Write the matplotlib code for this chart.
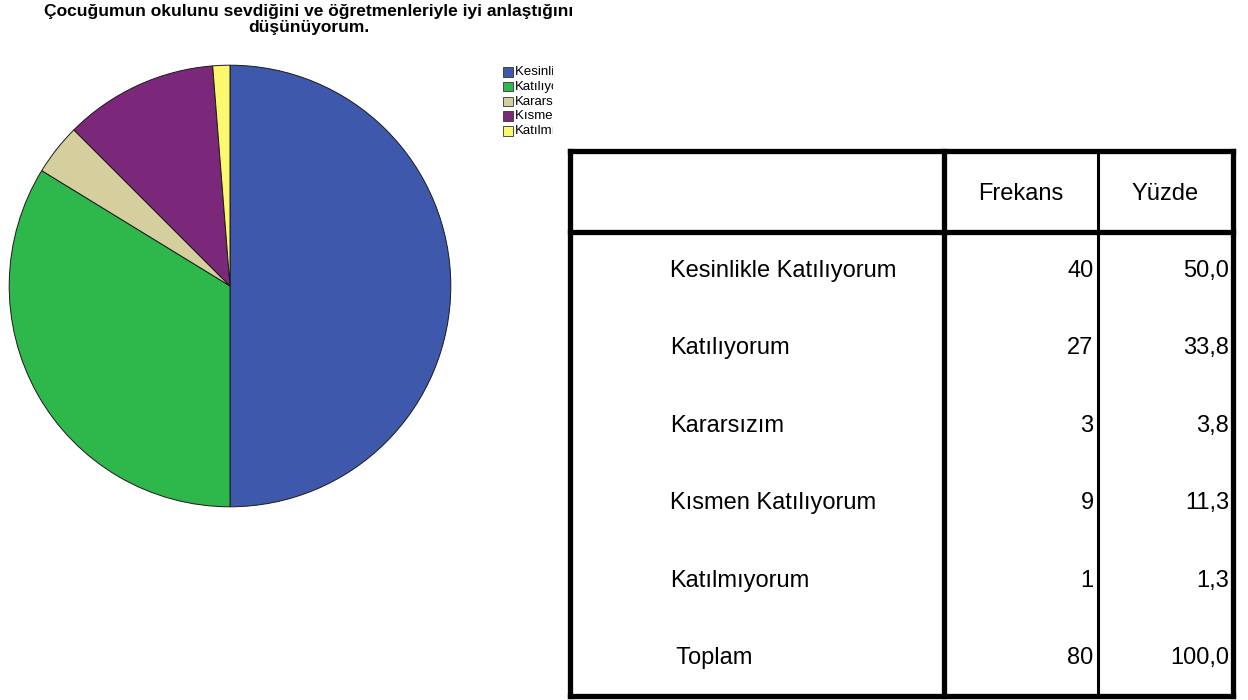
import matplotlib.pyplot as plt
from matplotlib.patches import Rectangle

plt.rcParams['font.family'] = ['Liberation Sans', 'DejaVu Sans']

title = "Çocuğumun okulunu sevdiğini ve öğretmenleriyle iyi anlaştığını\ndüşünüyorum."
categories = ["Kesinlikle Katılıyorum", "Katılıyorum", "Kararsızım",
              "Kısmen Katılıyorum", "Katılmıyorum"]
frequencies = [40, 27, 3, 9, 1]
percents = [50.0, 33.8, 3.8, 11.3, 1.3]
total_label = " Toplam"
total_freq = 80
total_pct = 100.0
headers = ["Frekans", "Yüzde"]
colors = ["#3e58ac", "#2eb84b", "#d5cf9d", "#7c287a", "#fbf870"]

W, H = 1248, 700
fig = plt.figure(figsize=(W / 100, H / 100), dpi=100)


def fig_axes(x0, y0, x1, y1):
    # axes placed by pixel box, y measured from the top
    return fig.add_axes([x0 / W, 1 - y1 / H, (x1 - x0) / W, (y1 - y0) / H])


# pie
cx, cy, r = 230, 286, 221
pax = fig_axes(cx - r - 2, cy - r - 2, cx + r + 2, cy + r + 2)
pax.pie(frequencies, colors=colors, startangle=90, counterclock=False,
        wedgeprops=dict(edgecolor="#1a1a1a", linewidth=0.7))
pax.set_xlim(-1.01, 1.01)
pax.set_ylim(-1.01, 1.01)
pax.set_aspect("equal")
pax.axis("off")

fig.text(309 / W, 1 - 4 / H, title, ha="center", va="top",
         fontsize=12.5, fontweight="bold", linespacing=1.1)

# legend, clipped on the right
lax = fig_axes(500, 63, 553, 140)
lax.set_xlim(500, 553)
lax.set_ylim(140, 63)
lax.axis("off")
for i, (name, c) in enumerate(zip(categories, colors)):
    y = 72 + i * 14.8
    lax.add_patch(Rectangle((503, y - 5), 10, 9.5, facecolor=c,
                            edgecolor="#333333", linewidth=0.6, clip_on=True))
    lax.text(515, y, name, fontsize=9.5, va="center", ha="left", clip_on=True)

# frequency table
tax = fig_axes(0, 0, W, H)
tax.set_xlim(0, W)
tax.set_ylim(H, 0)
tax.axis("off")

left, right, top, bottom = 570, 1233, 151, 696
col1, col2 = 944, 1097.5
head_bottom = 232
thick, thin = 3.8, 2.2

tax.plot([left, right], [top, top], color="black", lw=thick, solid_capstyle="projecting")
tax.plot([left, right], [bottom, bottom], color="black", lw=thick, solid_capstyle="projecting")
tax.plot([left, right], [head_bottom, head_bottom], color="black", lw=thick)
tax.plot([left, left], [top, bottom], color="black", lw=thick, solid_capstyle="projecting")
tax.plot([right, right], [top, bottom], color="black", lw=thick, solid_capstyle="projecting")
tax.plot([col1, col1], [top, bottom], color="black", lw=thick)
tax.plot([col2, col2], [top, bottom], color="black", lw=thin)

fs = 17
tax.text((col1 + col2) / 2, 194, headers[0], fontsize=fs, ha="center", va="center")
tax.text((col2 + right) / 2, 194, headers[1], fontsize=fs, ha="center", va="center")

row_labels = categories + [total_label]
row_freq = frequencies + [total_freq]
row_pct = percents + [total_pct]
for i, (lab, f, p) in enumerate(zip(row_labels, row_freq, row_pct)):
    y = 271 + i * 77.4
    tax.text(670, y, lab, fontsize=fs, ha="left", va="center")
    tax.text(col2 - 4, y, str(f), fontsize=fs, ha="right", va="center")
    tax.text(right - 4, y, f"{p:.1f}".replace(".", ","), fontsize=fs,
             ha="right", va="center")

fig.savefig("out.png", dpi=100)
